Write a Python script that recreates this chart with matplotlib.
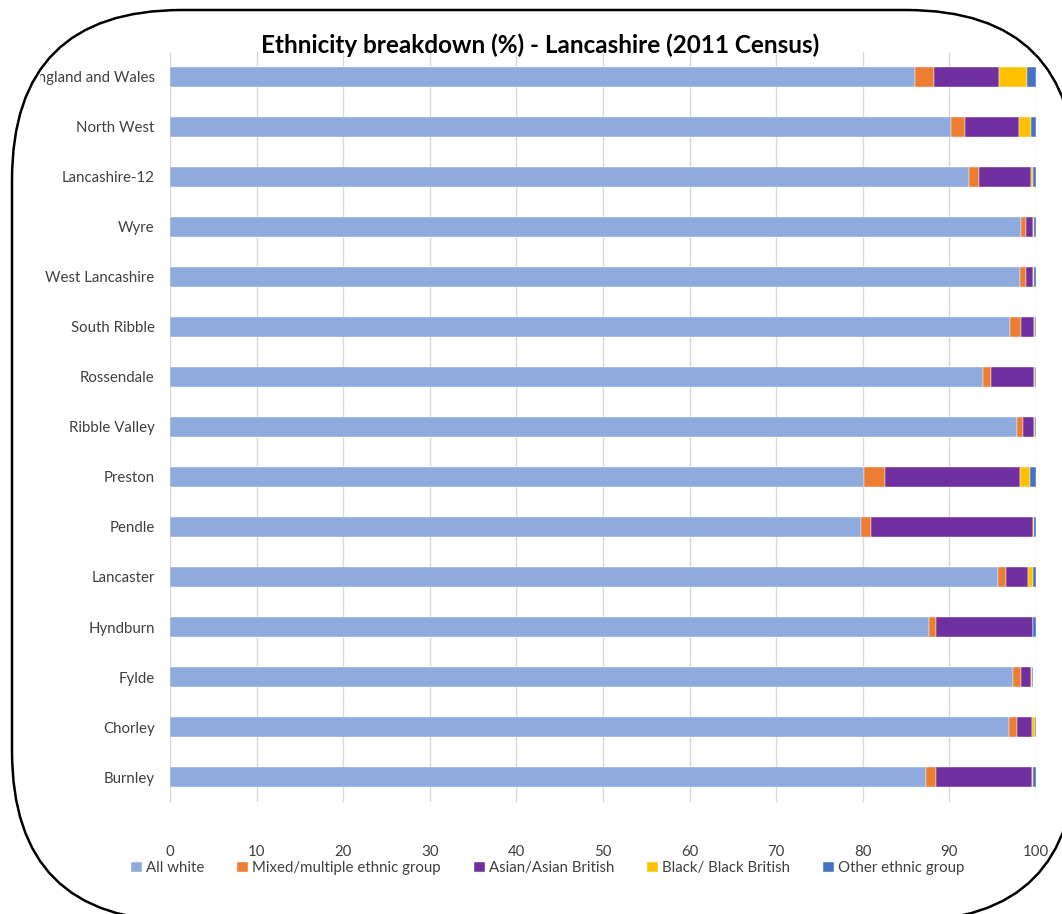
# Ethnicity breakdown (%) - Lancashire, 2011 Census
# stacked horizontal bars, Excel-ish look with rounded frame

import matplotlib.pyplot as plt
import numpy as np
from matplotlib.patches import FancyBboxPatch
from matplotlib.transforms import Bbox

plt.rcParams['font.family'] = ['Lato', 'DejaVu Sans']

areas = ["England and Wales", "North West", "Lancashire-12", "Wyre",
         "West Lancashire", "South Ribble", "Rossendale", "Ribble Valley",
         "Preston", "Pendle", "Lancaster", "Hyndburn", "Fylde", "Chorley",
         "Burnley"]

all_white = [86.0, 90.2, 92.3, 98.3, 98.2, 97.0, 93.9, 97.8, 80.1, 79.8, 95.6, 87.6, 97.3, 96.9, 87.3]
mixed     = [2.2, 1.6, 1.1, 0.5, 0.6, 1.3, 0.9, 0.7, 2.5, 1.1, 0.9, 0.8, 1.0, 0.9, 1.1]
asian     = [7.5, 6.2, 6.0, 0.9, 0.8, 1.5, 5.0, 1.3, 15.6, 18.8, 2.6, 11.2, 1.1, 1.7, 11.1]
black     = [3.3, 1.4, 0.3, 0.1, 0.2, 0.1, 0.1, 0.1, 1.1, 0.1, 0.5, 0.1, 0.1, 0.4, 0.2]
other     = [1.0, 0.6, 0.3, 0.2, 0.2, 0.1, 0.1, 0.1, 0.7, 0.2, 0.4, 0.3, 0.2, 0.1, 0.3]

series = ["All white", "Mixed/multiple ethnic group", "Asian/Asian British",
          "Black/ Black British", "Other ethnic group"]
colours = ["#8FAADC", "#ED7D31", "#7030A0", "#FFC000", "#4472C4"]

W, H = 1062, 914
fig = plt.figure(figsize=(W / 100, H / 100), dpi=100)

# rounded frame drawn in pixel space on a full-figure axes
bg = fig.add_axes([0, 0, 1, 1], zorder=0)
bg.set_xlim(0, W)
bg.set_ylim(H, 0)
bg.axis("off")
frame = FancyBboxPatch((12, 10), 1064, 911,
                       boxstyle="round,pad=0,rounding_size=170",
                       fc="white", ec="black", lw=1.8)
bg.add_patch(frame)

ax = fig.add_axes([170 / W, 1 - 802 / H, (1036 - 170) / W, (802 - 52) / H], zorder=1)
ax.patch.set_alpha(0)

y = np.arange(len(areas))
left = np.zeros(len(areas))
for vals, name, col in zip([all_white, mixed, asian, black, other], series, colours):
    ax.barh(y, vals, left=left, height=0.4, color=col, label=name,
            edgecolor="white", linewidth=0.3, zorder=3)
    left += np.array(vals)

ax.set_ylim(len(areas) - 0.5, -0.5)
ax.set_xlim(0, 100)
ax.set_xticks(range(0, 101, 10))
ax.set_yticks(y)
ax.set_yticklabels(areas)
ax.grid(axis="x", color="#d9d9d9", lw=1, zorder=0)
for s in ["top", "right", "bottom"]:
    ax.spines[s].set_visible(False)
ax.spines["left"].set_color("#d9d9d9")
ax.tick_params(axis="both", length=0, labelsize=10.8, labelcolor="#404040")
ax.tick_params(axis="y", pad=11)
ax.tick_params(axis="x", pad=31)

# the long label gets cut by the chart edge
clip = Bbox.from_extents(40, 0, W, H)
for lab in ax.get_yticklabels():
    lab.set_clip_on(True)
    lab.set_clip_box(clip)

fig.text(540 / W, 1 - 45 / H, "Ethnicity breakdown (%) - Lancashire (2011 Census)",
         ha="center", va="center", fontsize=17.5, fontweight="bold", color="black")

fig.legend(loc="center", bbox_to_anchor=(548 / W, 1 - 868 / H), ncol=5,
           frameon=False, fontsize=10.8, handlelength=0.7, handleheight=0.7,
           handletextpad=0.3, columnspacing=2.2, labelcolor="#404040")

fig.savefig("out.png", dpi=100)
